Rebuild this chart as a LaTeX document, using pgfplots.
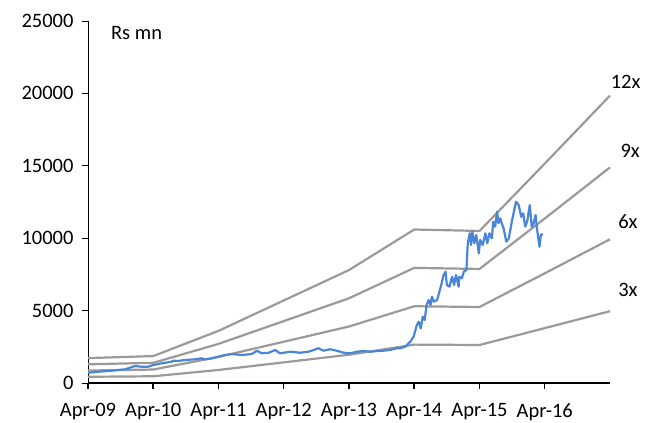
\documentclass[border=0pt]{standalone}
\usepackage{fontspec}
\setmainfont{Carlito}
\usepackage{pgfplots}
\pgfplotsset{compat=1.18}

\definecolor{bandgray}{RGB}{154,154,154}
\definecolor{mcapblue}{RGB}{74,134,216}

\begin{document}
\begin{tikzpicture}
\begin{axis}[
  scale only axis,
  width=522bp, height=362bp,
  xmin=0, xmax=8, ymin=0, ymax=25000,
  xtick={0,1,2,3,4,5,6,7},
  xticklabels={Apr-09,Apr-10,Apr-11,Apr-12,Apr-13,Apr-14,Apr-15,Apr-16},
  ytick={0,5000,10000,15000,20000,25000},
  scaled y ticks=false,
  axis x line*=bottom, axis y line*=left,
  tick align=outside,
  major tick length=6bp,
  x axis line style={line width=2bp, black},
  y axis line style={line width=0.9bp, black},
  xtick style={line width=1.5bp, black},
  ytick style={line width=0.9bp, black},
  tick label style={font=\fontsize{20.5bp}{24bp}\selectfont, text=black},
  xticklabel style={yshift=-11bp},
  yticklabel style={xshift=-5bp},
  clip=false,
  /pgf/number format/1000 sep={},
  /pgf/number format/assume math mode=true,
]
% P/E band lines (multiples of earnings)
\addplot[bandgray, line width=2.2bp] coordinates {(0,1720)(1,1860)(2,3600)(4,7800)(5,10600)(6,10500)(7,15150)(8,19850)};
\addplot[bandgray, line width=2.2bp] coordinates {(0,1290)(1,1395)(2,2700)(4,5850)(5,7950)(6,7875)(7,11360)(8,14890)};
\addplot[bandgray, line width=2.2bp] coordinates {(0,860)(1,930)(2,1800)(4,3900)(5,5300)(6,5250)(7,7575)(8,9925)};
\addplot[bandgray, line width=2.2bp] coordinates {(0,430)(1,465)(2,900)(4,1950)(5,2650)(6,2625)(7,3790)(8,4960)};

% market capitalisation
\addplot[mcapblue, line width=2.2bp, line join=round] coordinates {
(0.00,700)(0.16,780)(0.36,850)(0.57,945)(0.72,1170)(0.82,1125)(0.92,1125)
(1.00,1240)(1.13,1360)(1.28,1470)(1.31,1540)(1.38,1520)(1.49,1590)(1.64,1635)
(1.74,1705)(1.79,1635)(1.90,1705)(2.00,1820)(2.10,1935)(2.20,2000)(2.36,1935)
(2.51,2000)(2.59,2230)(2.66,2050)(2.77,2090)(2.87,2280)(2.94,2050)(3.10,2160)
(3.25,2090)(3.38,2160)(3.46,2280)(3.53,2400)(3.61,2230)(3.71,2330)(3.81,2230)
(3.92,2090)(4.02,2050)(4.12,2160)(4.22,2210)(4.33,2160)(4.43,2210)(4.53,2230)
(4.63,2280)(4.73,2400)(4.79,2400)(4.86,2510)(4.94,2855)(4.99,3200)(5.04,4005)
(5.07,4235)(5.10,3775)(5.13,4580)(5.16,4350)(5.19,5390)(5.22,5730)(5.25,5390)
(5.27,5960)(5.30,5615)(5.35,5730)(5.40,6540)(5.45,7460)(5.48,7690)(5.50,6770)
(5.54,6650)(5.58,7340)(5.61,6770)(5.64,7460)(5.68,6650)(5.69,7340)(5.73,7230)
(5.76,7690)(5.80,7800)(5.82,9650)(5.85,10340)(5.87,9530)(5.89,10450)(5.92,9650)
(5.95,10220)(5.99,8960)(6.01,9880)(6.05,9530)(6.09,10340)(6.12,9650)(6.15,10340)
(6.19,9990)(6.21,11140)(6.24,10800)(6.27,11830)(6.29,11030)(6.32,11370)(6.34,11030)
(6.37,10680)(6.41,9760)(6.45,9990)(6.50,11260)(6.56,12520)(6.60,12290)(6.64,11480)
(6.67,11720)(6.70,10800)(6.73,11140)(6.77,12290)(6.80,10800)(6.83,11030)(6.86,11600)
(6.88,10680)(6.92,9410)(6.94,10220)(6.97,10290)
};

\node[anchor=west, font=\fontsize{20.5bp}{24bp}\selectfont] at (axis cs:0.30,24170) {Rs mn};
\node[anchor=base, font=\fontsize{20.5bp}{24bp}\selectfont] at (axis cs:8.24,20370) {12x};
\node[anchor=base, font=\fontsize{20.5bp}{24bp}\selectfont] at (axis cs:8.31,15600) {9x};
\node[anchor=base, font=\fontsize{20.5bp}{24bp}\selectfont] at (axis cs:8.275,10700) {6x};
\node[anchor=base, font=\fontsize{20.5bp}{24bp}\selectfont] at (axis cs:8.275,5940) {3x};
\end{axis}
\pgfresetboundingbox
\path (-88bp,-40bp) rectangle (564bp,383bp);
\end{tikzpicture}
\end{document}
